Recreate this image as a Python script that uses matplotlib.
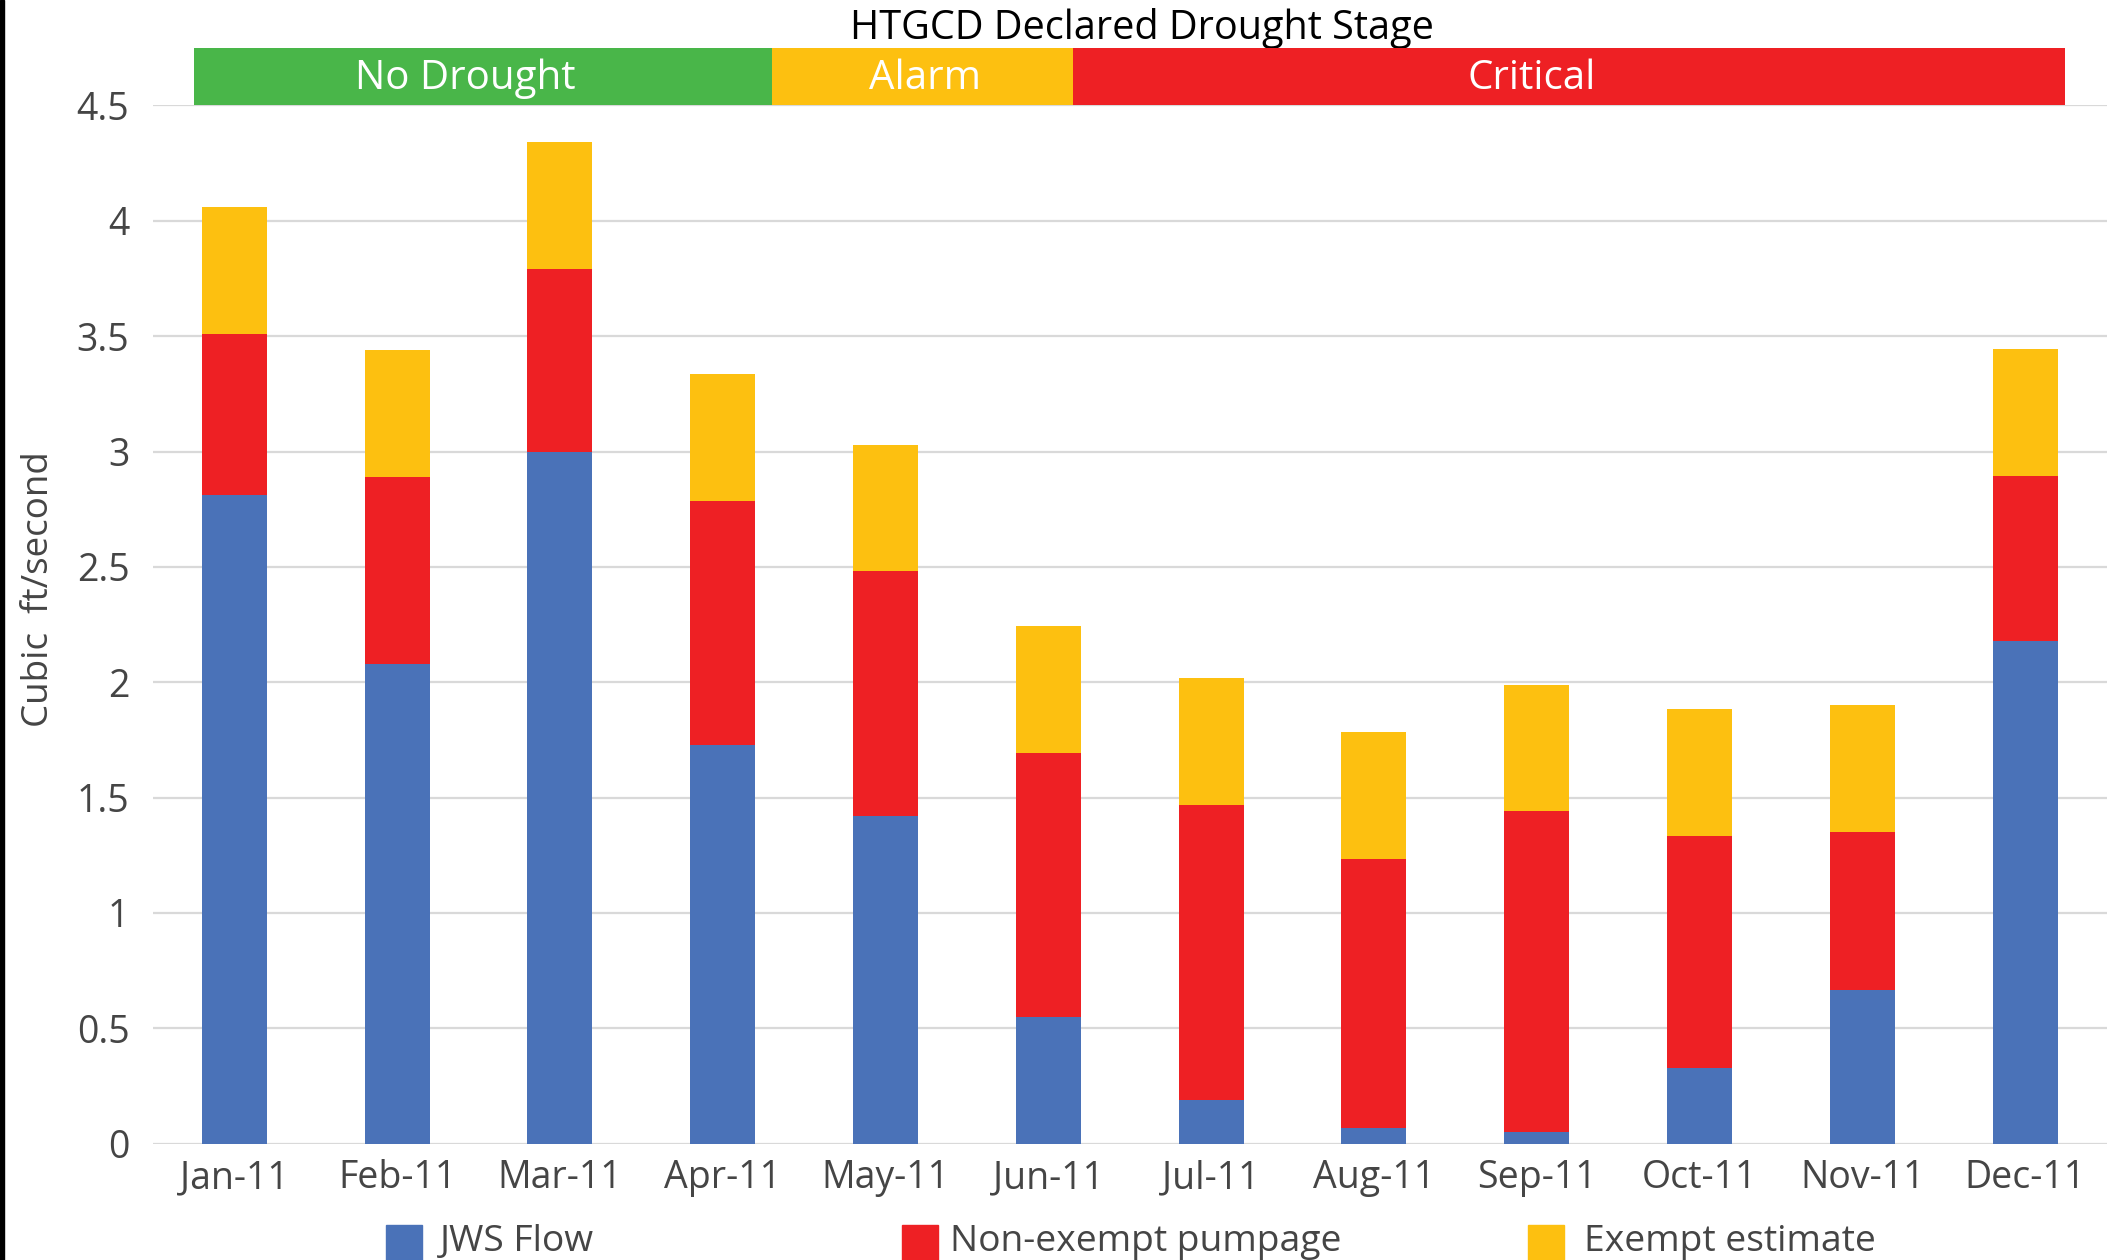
import matplotlib
matplotlib.use("Agg")
import matplotlib.pyplot as plt
from matplotlib.patches import Rectangle
import numpy as np

months = ["Jan-11", "Feb-11", "Mar-11", "Apr-11", "May-11", "Jun-11",
          "Jul-11", "Aug-11", "Sep-11", "Oct-11", "Nov-11", "Dec-11"]
jws_flow = [2.81, 2.08, 3.00, 1.73, 1.42, 0.55, 0.19, 0.07, 0.05, 0.33, 0.665, 2.18]
non_exempt = [0.70, 0.81, 0.79, 1.055, 1.06, 1.145, 1.28, 1.165, 1.39, 1.005, 0.685, 0.715]
exempt = [0.55, 0.55, 0.55, 0.55, 0.55, 0.55, 0.55, 0.55, 0.55, 0.55, 0.55, 0.55]
yticks = [0, 0.5, 1, 1.5, 2, 2.5, 3, 3.5, 4, 4.5]
ytick_labels = ["0", "0.5", "1", "1.5", "2", "2.5", "3", "3.5", "4", "4.5"]

stage_names = ["No Drought", "Alarm", "Critical"]
stage_start = [-0.25, 3.30, 5.15]
stage_end = [3.30, 5.15, 11.245]
stage_label_x = [1.42, 4.24, 7.97]

BLUE = "#4A72B8"
RED = "#EE2024"
YELLOW = "#FDC010"
GREEN = "#49B649"
stage_colors = [GREEN, YELLOW, RED]
TXT = "#454545"

plt.rcParams['font.family'] = ['Open Sans', 'DejaVu Sans']

W, H = 2111, 1260
fig = plt.figure(figsize=(W / 100, H / 100), dpi=100)
ax = fig.add_axes([152.9 / W, 116.3 / H, (2106.5 - 152.9) / W, (1143.7 - 105.4) / H])

x = np.arange(len(months))
b1 = np.array(jws_flow)
b2 = b1 + np.array(non_exempt)
ax.bar(x, jws_flow, width=0.4, color=BLUE, zorder=3)
ax.bar(x, non_exempt, width=0.4, bottom=b1, color=RED, zorder=3)
ax.bar(x, exempt, width=0.4, bottom=b2, color=YELLOW, zorder=3)

ax.set_xlim(-0.5, 11.5)
ax.set_ylim(0, 4.5)
ax.set_yticks(yticks)
ax.set_yticklabels(ytick_labels)
ax.set_xticks(x)
ax.set_xticklabels(months)
ax.tick_params(axis='both', length=0, labelsize=27, colors=TXT)
ax.tick_params(axis='y', pad=17)
ax.tick_params(axis='x', pad=11)
ax.yaxis.grid(True, color="#d9d9d9", lw=1.6, zorder=0)
ax.set_axisbelow(True)
for s in ax.spines.values():
    s.set_visible(False)

# drought stage banner
band_h = 57 / 230.7
bars = ax.barh([4.5 + band_h / 2] * 3, np.array(stage_end) - np.array(stage_start),
               left=stage_start, height=band_h, color=stage_colors, zorder=4)
for p in bars:
    p.set_clip_on(False)
for name, lx in zip(stage_names, stage_label_x):
    ax.text(lx, 4.5 + band_h / 2 - 0.006, name, ha='center', va='center', color='white',
            fontsize=29, zorder=5, clip_on=False)
ax.text(5.575, 4.5 + (105.4 - 29) / 230.7, "HTGCD Declared Drought Stage", ha='center',
        va='center', fontsize=28.5, color='black', clip_on=False)

# y label
fig.text(39 / W, 1 - 589 / H, "Cubic  ft/second", rotation=90, ha='center', va='center',
         fontsize=26.5, color=TXT)

# legend
leg_labels = ["JWS Flow", "Non-exempt pumpage", "Exempt estimate"]
leg_colors = [BLUE, RED, YELLOW]
sq_x = [386, 902, 1528]
txt_x = [440, 950, 1584]
for lab, c, sx, tx in zip(leg_labels, leg_colors, sq_x, txt_x):
    fig.add_artist(Rectangle((sx / W, -0.01), 36 / W, (1260 - 1225) / H + 0.01,
                             transform=fig.transFigure, color=c))
    fig.text(tx / W, 1 - 1242 / H, lab, ha='left', va='center', fontsize=26.8, color=TXT)

# black left border
fig.add_artist(Rectangle((0, 0), 4 / W, 1, transform=fig.transFigure, color='black'))

fig.savefig("out.png", dpi=100)
